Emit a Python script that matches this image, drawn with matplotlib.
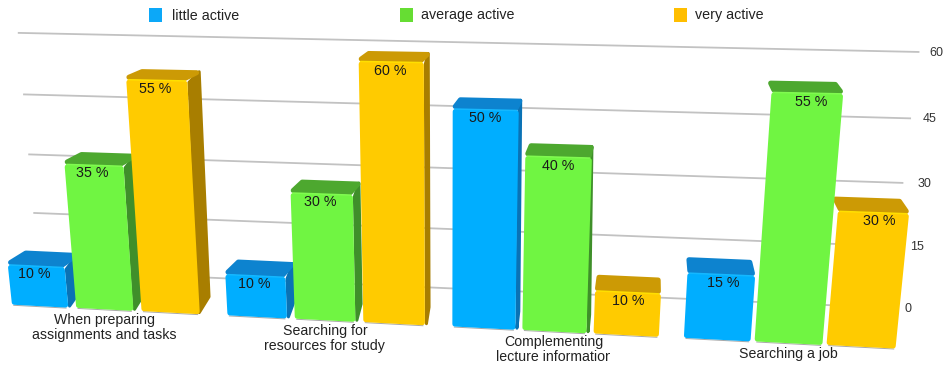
import numpy as np
import matplotlib
matplotlib.use('Agg')
import matplotlib.pyplot as plt
from matplotlib.patches import Polygon, Rectangle

plt.rcParams['font.family'] = ['Liberation Sans', 'DejaVu Sans']

categories = ['When preparing\nassignments and tasks', 'Searching for\nresources for study',
              'Complementing\nlecture information', 'Searching a job']
series_names = ['little active', 'average active', 'very active']
little_active = [10, 10, 50, 15]
average_active = [35, 30, 40, 55]
very_active = [55, 60, 10, 30]
value_ticks = [0, 15, 30, 45, 60]

# front, top, side, highlight
blue = ['#00aeff', '#0d83cf', '#0a72b5', '#14b8ff']
green = ['#70f542', '#4da82f', '#3f8f2a', '#80fb50']
yellow = ['#ffcb00', '#cc9a05', '#a87e00', '#ffdf00']
palette = [blue, green, yellow]
legend_colors = ['#0ca8f8', '#66dd33', '#ffbe00']
legend_squares = [149, 400, 674]
legend_text = [171.5, 421, 695]

# pinhole camera: (slot, value / 10, depth) -> pixels
CAMERA = np.array([[55.8369, -3.74578, 15.65527, 11.73574],
                   [0.536, -42.05879, -8.27751, 304.79581],
                   [-0.00731, -0.00842, 0.02398, 1.0]])
group_starts = [0, 3.75, 7.45, 11.05]
group_gaps = [0.14, 0.13, 0.11, 0.06]
WALL_LEFT, WALL_RIGHT = -0.14, 14.3
WALL_DEPTH_LEFT = 2.33
# the wall is slightly skewed, so the right ends sit at varying depth
wall_depth_right = [2.35, 2.25, 2.14, 1.95, 1.70]
tick_label_x = [908, 917, 924, 930, 936]
SIDE_LIMIT = 9  # past this slot the front hides the side face


def project(slot, value, depth=0.0):
    h = CAMERA @ np.array([slot, value / 10, depth, 1.0])
    return h[:2] / h[2]


def rounded_face(pts, color, radius, z):
    # inset the outline, then a thick round-joined stroke brings it back with soft corners
    pts = np.array(pts)
    mid = pts.mean(axis=0)
    away = pts - mid
    dist = np.maximum(np.abs(away), 1e-6)
    inset = pts - np.sign(away) * np.minimum(radius, dist * 0.8)
    ax.add_patch(Polygon(inset, closed=True, facecolor=color, edgecolor=color,
                         lw=2 * radius * 0.72, joinstyle='round', zorder=z))


fig = plt.figure(figsize=(9.47, 3.66), dpi=100)
ax = fig.add_axes([0, 0, 1, 1])
ax.set_xlim(0, 947)
ax.set_ylim(366, 0)
ax.axis('off')

# back wall grid
for v, d, lx in zip(value_ticks, wall_depth_right, tick_label_x):
    a, b = project(WALL_LEFT, v, WALL_DEPTH_LEFT), project(WALL_RIGHT, v, d)
    ax.plot([a[0], b[0]], [a[1], b[1]], color='#c2c2c2', lw=1.3, zorder=1, solid_capstyle='butt')
    ax.text(lx, b[1] + 1, str(v), fontsize=9, color='#333333', ha='center', va='center')


def draw_bar(left, value, cols, z):
    right = left + 1
    ftl, ftr = project(left, value), project(right, value)
    fbl, fbr = project(left, 0), project(right, 0)
    btl, btr = project(left, value, 1), project(right, value, 1)
    bbr = project(right, 0, 1)
    if left < SIDE_LIMIT:
        rounded_face([ftr, btr, bbr, fbr], cols[2], 1.5, z)
    rounded_face([ftl, ftr, btr, btl], cols[1], 2.5, z)
    ax.plot([fbl[0] + 2, fbr[0] - 2], [fbl[1] + 0.5, fbr[1] + 0.5], color='#a8a8a8', lw=0.7,
            zorder=z)
    rounded_face([ftl, ftr, fbr, fbl], cols[0], 2.5, z)
    ax.plot([ftl[0] + 2, ftr[0] - 2], [ftl[1], ftr[1]], color=cols[3], lw=1.1, zorder=z,
            solid_capstyle='round')


all_series = [little_active, average_active, very_active]
bars = []
for g in range(len(categories)):
    for s in range(3):
        bars.append((group_starts[g] + s * (1 + group_gaps[g]), all_series[s][g], palette[s]))

# bars further from the viewing axis get painted first
order = sorted(bars, key=lambda b: -abs(b[0] + 0.5 - 7.5))
for i, (left, value, cols) in enumerate(order):
    draw_bar(left, value, cols, 2 + i)
    pos = project(left + 0.5, value - 1.9)
    pos[0] += np.interp(pos[0], [0, 600, 880], [-3, 0, 7])
    ax.text(pos[0], pos[1], f'{value} %', fontsize=10.3, color='#1a1a1a', ha='center',
            va='center', zorder=40)

# category captions hang below the middle bar of each group
for g, name in enumerate(categories):
    pos = project(group_starts[g] + 1 + group_gaps[g] + 0.5, 0)
    t = ax.text(pos[0], pos[1] + 3.5, name, fontsize=10.2, color='#222222', ha='center', va='top',
                linespacing=1.12, zorder=41)
    if g == 2:
        t.set_clip_path(Rectangle((0, 0), 610, 366, transform=ax.transData))
        t.set_clip_on(True)

for name, c, sx, tx in zip(series_names, legend_colors, legend_squares, legend_text):
    ax.add_patch(Rectangle((sx, 8), 13, 14, facecolor=c, edgecolor='none'))
    ax.text(tx, 15.5, name, fontsize=10.3, color='#222222', ha='left', va='center')

fig.savefig('out.png', dpi=100)
